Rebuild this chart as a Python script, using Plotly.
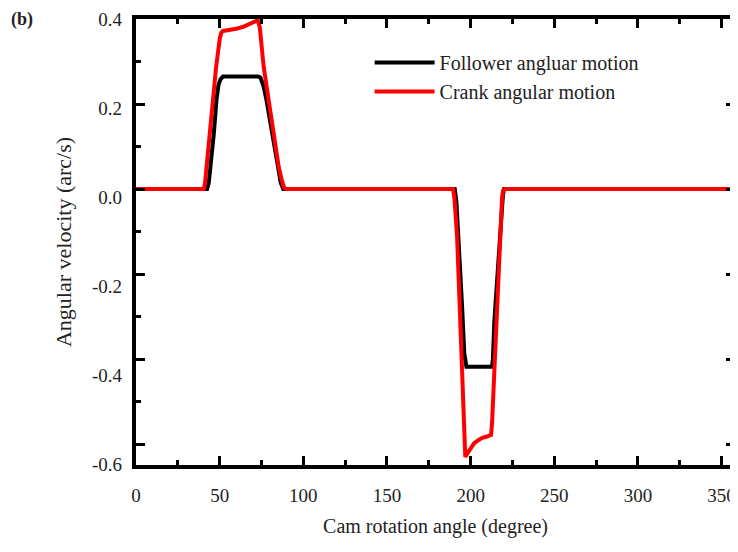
import plotly.graph_objects as go

# Follower angular motion
follower_deg = [0, 42.5, 43.5, 44.5, 45.5, 46.5, 48.1, 49.3, 50.5, 52, 54, 73, 74.4, 76.3,
                78, 79.6, 81.3, 83, 84.7, 86.5, 88, 189, 190.5, 191.5, 192.8, 194.8, 196.2,
                196.8, 197.5, 212.8, 213.3, 214.2, 216.1, 218.1, 219.3, 220, 360]
follower_vel = [0, 0, 0.015, 0.05, 0.09, 0.13, 0.21, 0.245, 0.258, 0.265, 0.265, 0.265, 0.262, 0.241,
                0.209, 0.17, 0.131, 0.09, 0.052, 0.015, 0, 0, 0, -0.03, -0.112, -0.269, -0.387,
                -0.412, -0.418, -0.418, -0.40, -0.308, -0.19, -0.073, -0.014, 0, 0]

# Crank angular motion
crank_deg = [0, 40.5, 41.2, 42.1, 44.1, 46.1, 47.9, 50.1, 51, 52, 56.5, 60, 64.4, 68, 71, 72.8,
             74, 75, 76.3, 79.3, 82, 85.3, 87.3, 88.5, 89.5, 189.5, 190.3, 191.9, 193.4, 194.8,
             195.8, 196.8, 197.5, 199.8, 202, 204.8, 207, 209.8, 212.2, 212.8, 214.2, 215.8,
             217.3, 218.8, 219.5, 220.7, 360]
crank_vel = [0, 0, 0.012, 0.052, 0.131, 0.209, 0.288, 0.355, 0.368, 0.372, 0.374, 0.377, 0.382,
             0.388, 0.393, 0.397, 0.38, 0.34, 0.288, 0.209, 0.131, 0.052, 0.018, 0.004, 0, 0,
             -0.02, -0.112, -0.269, -0.426, -0.544, -0.63, -0.625, -0.61, -0.598, -0.59, -0.585,
             -0.582, -0.578, -0.551, -0.426, -0.269, -0.112, -0.018, -0.003, 0, 0]

x_ticks = [0, 50, 100, 150, 200, 250, 300, 350]
y_tickvals = [0.4, 0.2, 0.0, -0.2, -0.4, -0.6]
y_ticktext = ["0.4", "0.2", "0.0", "-0.2", "-0.4", "-0.6"]

FONT = "Liberation Serif, Times New Roman, serif"
TXT = "#222222"

fig = go.Figure()
fig.add_trace(go.Scatter(x=follower_deg, y=follower_vel, mode="lines",
                         name="Follower angluar motion",
                         line=dict(color="black", width=4)))
fig.add_trace(go.Scatter(x=crank_deg, y=crank_vel, mode="lines",
                         name="Crank angular motion",
                         line=dict(color="#ff0000", width=4)))
fig.add_trace(go.Scatter(x=[None], y=[None], yaxis="y2", showlegend=False,
                         hoverinfo="skip", mode="lines"))

axis_common = dict(showgrid=False, zeroline=False, showline=True, linecolor="black",
                   linewidth=3.5, mirror="ticks", ticks="inside", tickcolor="black",
                   tickwidth=3, automargin=False)

fig.update_layout(
    width=730, height=530,
    margin=dict(l=128, r=3, t=11, b=73, autoexpand=False),
    paper_bgcolor="white", plot_bgcolor="white",
    font=dict(family=FONT, color=TXT, size=19),
    xaxis=dict(range=[0, 358], tickvals=x_ticks, ticklen=9,
               minor=dict(dtick=25, tick0=0, ticks="inside", ticklen=5,
                          tickwidth=3, tickcolor="black"),
               ticklabelstandoff=10,
               tickfont=dict(size=19, family=FONT, color=TXT),
               title=dict(text="Cam rotation angle (degree)", standoff=22,
                          font=dict(size=20, family=FONT, color=TXT)),
               **axis_common),
    yaxis=dict(range=[-0.649, 0.4], tickvals=y_tickvals, ticklen=9,
               showticklabels=False,
               minor=dict(dtick=0.1, tick0=0, ticks="inside", ticklen=5,
                          tickwidth=3, tickcolor="black"),
               **axis_common),
    yaxis2=dict(overlaying="y", anchor="x", side="left", range=[-0.601, 0.401],
                tickmode="array", tickvals=y_tickvals, ticktext=y_ticktext,
                showgrid=False, zeroline=False, showline=False, ticks="",
                ticklabelstandoff=13, automargin=False,
                tickfont=dict(size=19, family=FONT, color=TXT),
                title=dict(text="Angular velocity (arc/s)", standoff=14,
                           font=dict(size=22, family=FONT, color=TXT))),
    legend=dict(x=0.39, y=0.946, xanchor="left", yanchor="top",
                bgcolor="rgba(0,0,0,0)", borderwidth=0, itemwidth=60,
                font=dict(size=20, family=FONT, color=TXT)),
    showlegend=True,
)

fig.add_annotation(text="<b>(b)</b>", xref="paper", yref="paper",
                   x=-0.19, y=0.998, xanchor="center", yanchor="middle",
                   showarrow=False, font=dict(size=18, family=FONT, color=TXT))

fig.write_html("out.html")
